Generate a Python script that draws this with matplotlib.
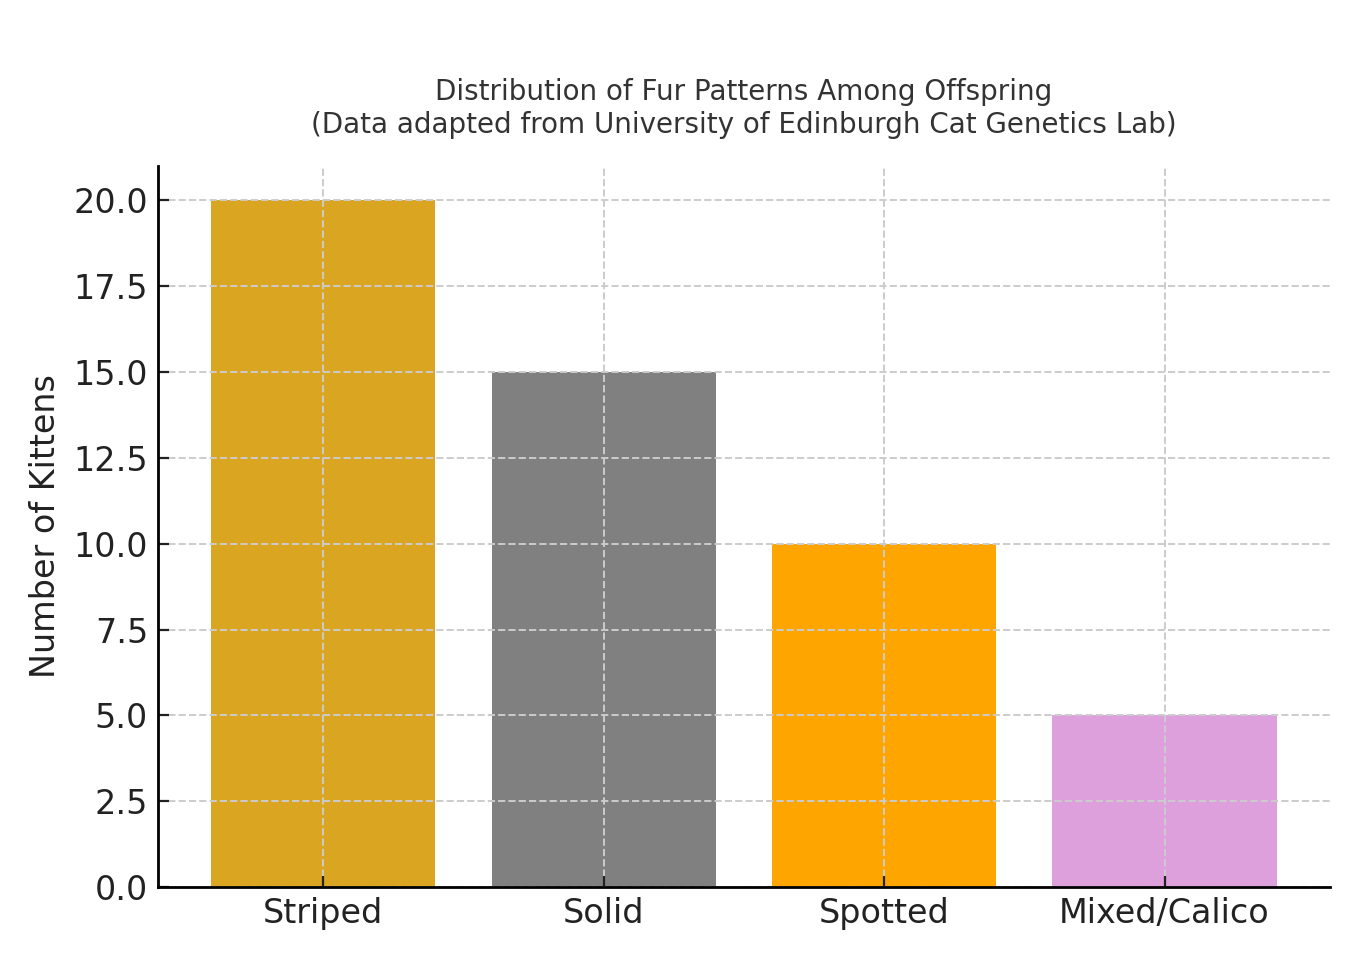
import matplotlib
matplotlib.use('Agg')
import matplotlib.pyplot as plt

patterns = ['Striped', 'Solid', 'Spotted', 'Mixed/Calico']
kittens = [20, 15, 10, 5]
colors = ['goldenrod', 'gray', 'orange', 'plum']

fig = plt.figure(figsize=(6.8, 4.8), dpi=200)
ax = fig.add_axes([0.116, 0.076, 0.862, 0.751])

ax.bar(patterns, kittens, color=colors, width=0.8, zorder=1)
ax.grid(True, linestyle='--', color='#cccccc', linewidth=0.7, zorder=2)
ax.set_axisbelow(False)

ax.spines['top'].set_visible(False)
ax.spines['right'].set_visible(False)
for side in ['left', 'bottom']:
    ax.spines[side].set_linewidth(1.0)
    ax.spines[side].set_zorder(5)

ax.tick_params(axis='both', labelsize=12, direction='in', colors='#222222', length=4)
ax.set_ylabel('Number of Kittens', fontsize=12, color='#222222')
ax.set_title('Distribution of Fur Patterns Among Offspring\n(Data adapted from University of Edinburgh Cat Genetics Lab)',
             fontsize=10, color='#333333', pad=12)

fig.savefig('out.png', dpi=200)
